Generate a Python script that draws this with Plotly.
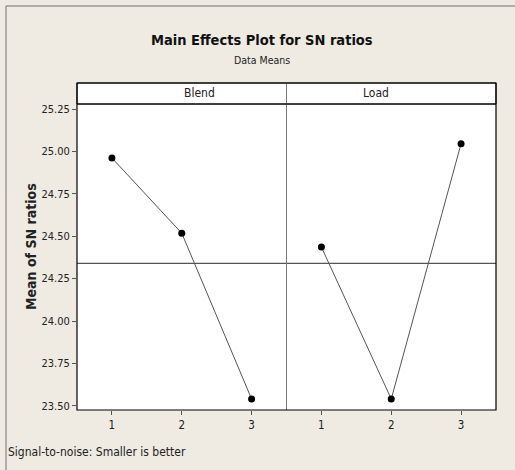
import plotly.graph_objects as go

levels = [1, 2, 3]
blend_sn = [24.962, 24.518, 23.540]
load_sn = [24.436, 23.540, 25.046]
y_ticks = [23.50, 23.75, 24.00, 24.25, 24.50, 24.75, 25.00, 25.25]
panel_names = ["Blend", "Load"]

grand_mean = sum(blend_sn) / len(blend_sn)

FONT = "DejaVu Sans Condensed, Liberation Sans Narrow, sans-serif"
BG = "#EFEBE2"

fig = go.Figure()
for i, vals in enumerate([blend_sn, load_sn]):
    xa = "x" if i == 0 else "x2"
    fig.add_trace(go.Scatter(
        x=levels, y=vals, xaxis=xa, yaxis="y",
        mode="lines+markers",
        line=dict(color="#555555", width=1),
        marker=dict(color="black", size=7),
        showlegend=False, hoverinfo="x+y"))

W, H = 515, 470
L, R, T, B = 77, 19, 104, 60
ph = H - T - B
pw = W - L - R
strip_h = 21 / ph

def px_x(x):
    return (x - L) / pw

def px_y(y):
    return (H - B - y) / ph

axis_common = dict(range=[0.5, 3.5], tickvals=levels, ticks="outside", ticklen=4,
                   tickcolor="#555", showgrid=False, zeroline=False,
                   showline=False,
                   tickfont=dict(family=FONT, size=11.5, color="#222"))

fig.update_layout(
    width=W, height=H,
    margin=dict(l=L, r=R, t=T, b=B),
    paper_bgcolor=BG, plot_bgcolor="white",
    xaxis=dict(domain=[0, 0.5], **axis_common),
    xaxis2=dict(domain=[0.5, 1], anchor="y", **axis_common),
    yaxis=dict(range=[23.475, 25.28], tickvals=y_ticks,
               ticktext=[f"{v:.2f}" for v in y_ticks],
               ticks="outside", ticklen=4, tickcolor="#555",
               showgrid=False, zeroline=False, showline=False,
               tickfont=dict(family=FONT, size=11, color="#222")),
    font=dict(family=FONT, color="#222"),
)

shapes = []
# grand mean line across both panels
shapes.append(dict(type="line", xref="paper", yref="y", x0=0, x1=1,
                   y0=grand_mean, y1=grand_mean,
                   line=dict(color="#555555", width=1.3)))
# panel divider
shapes.append(dict(type="line", xref="paper", yref="paper", x0=0.5, x1=0.5,
                   y0=0, y1=1 + strip_h, line=dict(color="#777777", width=1)))
# strip header boxes
for i in range(2):
    shapes.append(dict(type="rect", xref="paper", yref="paper",
                       x0=i * 0.5, x1=(i + 1) * 0.5, y0=1, y1=1 + strip_h,
                       fillcolor="white", line=dict(color="black", width=1),
                       layer="below"))
# data region frame
shapes.append(dict(type="rect", xref="paper", yref="paper",
                   x0=0, x1=1, y0=0, y1=1 + strip_h,
                   line=dict(color="black", width=1.2)))
shapes.append(dict(type="line", xref="paper", yref="paper",
                   x0=0, x1=1, y0=1, y1=1,
                   line=dict(color="black", width=1.2)))
# outer frame (top and left edges)
shapes.append(dict(type="line", xref="paper", yref="paper",
                   x0=px_x(6), x1=px_x(W), y0=px_y(6), y1=px_y(6),
                   line=dict(color="#999999", width=1.5)))
shapes.append(dict(type="line", xref="paper", yref="paper",
                   x0=px_x(6), x1=px_x(6), y0=px_y(H), y1=px_y(6),
                   line=dict(color="#999999", width=1.5)))
fig.update_layout(shapes=shapes)

annotations = []
for i, name in enumerate(panel_names):
    annotations.append(dict(text=name, xref="paper", yref="paper",
                            x=i * 0.5 + 0.25, y=1 + strip_h / 2,
                            showarrow=False, yanchor="middle",
                            font=dict(family=FONT, size=12, color="#222")))
annotations.append(dict(text="<b>Main Effects Plot for SN ratios</b>",
                        xref="paper", yref="paper", x=px_x(262),
                        y=px_y(40), showarrow=False, yanchor="middle",
                        font=dict(family=FONT, size=14.5, color="#111")))
annotations.append(dict(text="Data Means", xref="paper", yref="paper",
                        x=px_x(262), y=px_y(60),
                        showarrow=False, yanchor="middle",
                        font=dict(family=FONT, size=10.5, color="#222")))
annotations.append(dict(text="<b>Mean of SN ratios</b>", xref="paper", yref="paper",
                        x=px_x(31), y=px_y(247), textangle=-90,
                        showarrow=False, xanchor="center", yanchor="middle",
                        font=dict(family=FONT, size=14, color="#222")))
annotations.append(dict(text="Signal-to-noise: Smaller is better",
                        xref="paper", yref="paper", x=px_x(6),
                        xanchor="left", y=px_y(452),
                        showarrow=False, yanchor="middle",
                        font=dict(family=FONT, size=12, color="#222")))
fig.update_layout(annotations=annotations)

fig.write_html("out.html", config={"displayModeBar": False},
               post_script="document.body.style.margin='0';document.body.style.overflow='hidden';")
